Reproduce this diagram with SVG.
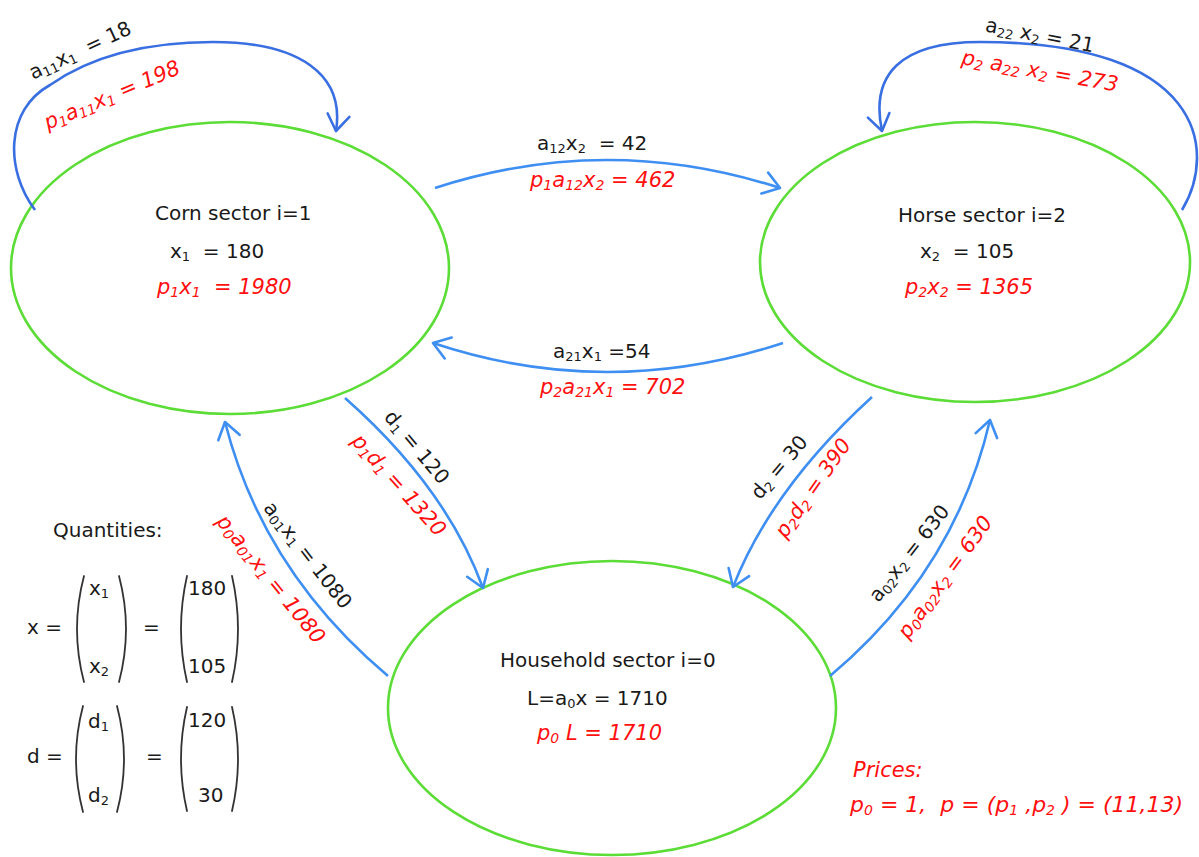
<svg xmlns="http://www.w3.org/2000/svg" width="1199" height="857" viewBox="0 0 1199 857">
<defs>
<style>
.ell{fill:none;stroke:#5cdc36;stroke-width:2.6}
.c1{fill:none;stroke:#3a6fe2;stroke-width:2.6}
.c2{fill:none;stroke:#3f8ff2;stroke-width:2.6}
.t{font-family:"DejaVu Sans","Verdana",sans-serif;font-size:20px;fill:#1a1a1a;white-space:pre}
.r{font-family:"DejaVu Sans","Verdana",sans-serif;font-size:21px;fill:#ff1010;font-style:italic;white-space:pre}
.s{font-size:13px}
.r .s{font-size:14px}
.br{fill:none;stroke:#333;stroke-width:1.8;stroke-linecap:round}
</style>
<marker id="m1" viewBox="-20 -14 24 28" refX="0" refY="0" markerWidth="24" markerHeight="28" orient="auto" markerUnits="userSpaceOnUse">
<path d="M-16,-11 L0,0 L-16,11" fill="none" stroke="#3a6fe2" stroke-width="2.6" stroke-linecap="round" stroke-linejoin="round"/>
</marker>
<marker id="m2" viewBox="-20 -14 24 28" refX="0" refY="0" markerWidth="24" markerHeight="28" orient="auto" markerUnits="userSpaceOnUse">
<path d="M-16,-11 L0,0 L-16,11" fill="none" stroke="#3f8ff2" stroke-width="2.6" stroke-linecap="round" stroke-linejoin="round"/>
</marker>
</defs>
<rect width="1199" height="857" fill="#fff"/>

<g id="node-corn">
<ellipse class="ell" cx="230" cy="268" rx="219" ry="146"/>
<text class="t" x="155" y="220">Corn sector i=1</text>
<text class="t" x="170" y="258">x<tspan class="s" dy="3">1</tspan><tspan dy="-3">  = 180</tspan></text>
<text class="r" x="157" y="294">p<tspan class="s" dy="3">1</tspan><tspan dy="-3">x</tspan><tspan class="s" dy="3">1</tspan><tspan dy="-3">  = 1980</tspan></text>
</g>

<g id="node-horse">
<ellipse class="ell" cx="975" cy="262" rx="215" ry="140"/>
<text class="t" x="898" y="222">Horse sector i=2</text>
<text class="t" x="920" y="258">x<tspan class="s" dy="3">2</tspan><tspan dy="-3">  = 105</tspan></text>
<text class="r" x="905" y="294">p<tspan class="s" dy="3">2</tspan><tspan dy="-3">x</tspan><tspan class="s" dy="3">2</tspan><tspan dy="-3"> = 1365</tspan></text>
</g>

<g id="node-household">
<ellipse class="ell" cx="612" cy="708" rx="224" ry="147"/>
<text class="t" x="500" y="667">Household sector i=0</text>
<text class="t" x="527" y="705">L=a<tspan class="s" dy="3">0</tspan><tspan dy="-3">x = 1710</tspan></text>
<text class="r" x="537" y="740">p<tspan class="s" dy="3">0</tspan><tspan dy="-3"> L = 1710</tspan></text>
</g>

<g id="connectors">
<path class="c1" d="M35,210 C5,170 5,110 50,85 C100,50 160,42 213,42 C300,42 345,75 336,131" marker-end="url(#m1)"/>
<path class="c1" d="M1182,210 C1218,150 1203,42 980,42 C900,42 870,75 882,131" marker-end="url(#m1)"/>
<path class="c2" d="M435,188 Q607,132 780,188" marker-end="url(#m2)"/>
<path class="c2" d="M783,343 Q607,401 433,343" marker-end="url(#m2)"/>
<path class="c2" d="M345,398 Q446,487 483,588" marker-end="url(#m2)"/>
<path class="c2" d="M872,397 Q772,488 733,587" marker-end="url(#m2)"/>
<path class="c2" d="M388,676 Q263,571 225,422" marker-end="url(#m2)"/>
<path class="c2" d="M830,676 Q955,571 990,420" marker-end="url(#m2)"/>
</g>

<g id="connector-labels">
<text class="t" transform="translate(80,50) rotate(-25)" y="7" text-anchor="middle">a<tspan class="s" dy="3">11</tspan><tspan dy="-3">x</tspan><tspan class="s" dy="3">1</tspan><tspan dy="-3">  = 18</tspan></text>
<text class="r" transform="translate(112,95) rotate(-23)" y="7" text-anchor="middle">p<tspan class="s" dy="3">1</tspan><tspan dy="-3">a</tspan><tspan class="s" dy="3">11</tspan><tspan dy="-3">x</tspan><tspan class="s" dy="3">1</tspan><tspan dy="-3"> = 198</tspan></text>
<text class="t" transform="translate(1040,35) rotate(11)" y="7" text-anchor="middle">a<tspan class="s" dy="3">22</tspan><tspan dy="-3"> x</tspan><tspan class="s" dy="3">2</tspan><tspan dy="-3"> = 21</tspan></text>
<text class="r" transform="translate(1040,71) rotate(10)" y="7" text-anchor="middle">p<tspan class="s" dy="3">2</tspan><tspan dy="-3"> a</tspan><tspan class="s" dy="3">22</tspan><tspan dy="-3"> x</tspan><tspan class="s" dy="3">2</tspan><tspan dy="-3"> = 273</tspan></text>
<text class="t" x="537" y="150">a<tspan class="s" dy="3">12</tspan><tspan dy="-3">x</tspan><tspan class="s" dy="3">2</tspan><tspan dy="-3">  = 42</tspan></text>
<text class="r" x="530" y="187">p<tspan class="s" dy="3">1</tspan><tspan dy="-3">a</tspan><tspan class="s" dy="3">12</tspan><tspan dy="-3">x</tspan><tspan class="s" dy="3">2</tspan><tspan dy="-3"> = 462</tspan></text>
<text class="t" x="553" y="358">a<tspan class="s" dy="3">21</tspan><tspan dy="-3">x</tspan><tspan class="s" dy="3">1</tspan><tspan dy="-3"> =54</tspan></text>
<text class="r" x="540" y="394">p<tspan class="s" dy="3">2</tspan><tspan dy="-3">a</tspan><tspan class="s" dy="3">21</tspan><tspan dy="-3">x</tspan><tspan class="s" dy="3">1</tspan><tspan dy="-3"> = 702</tspan></text>
<text class="t" transform="translate(417,447) rotate(50)" y="7" text-anchor="middle">d<tspan class="s" dy="3">1</tspan><tspan dy="-3"> = 120</tspan></text>
<text class="r" transform="translate(399,485) rotate(48)" y="7" text-anchor="middle">p<tspan class="s" dy="3">1</tspan><tspan dy="-3">d</tspan><tspan class="s" dy="3">1</tspan><tspan dy="-3"> = 1320</tspan></text>
<text class="t" transform="translate(779,467) rotate(-50)" y="7" text-anchor="middle">d<tspan class="s" dy="3">2</tspan><tspan dy="-3"> = 30</tspan></text>
<text class="r" transform="translate(813,488) rotate(-55)" y="7" text-anchor="middle">p<tspan class="s" dy="3">2</tspan><tspan dy="-3">d</tspan><tspan class="s" dy="3">2</tspan><tspan dy="-3"> = 390</tspan></text>
<text class="t" transform="translate(308,555) rotate(52)" y="7" text-anchor="middle">a<tspan class="s" dy="3">01</tspan><tspan dy="-3">x</tspan><tspan class="s" dy="3">1</tspan><tspan dy="-3"> = 1080</tspan></text>
<text class="r" transform="translate(271,579) rotate(51)" y="7" text-anchor="middle">p<tspan class="s" dy="3">0</tspan><tspan dy="-3">a</tspan><tspan class="s" dy="3">01</tspan><tspan dy="-3">x</tspan><tspan class="s" dy="3">1</tspan><tspan dy="-3"> = 1080</tspan></text>
<text class="t" transform="translate(909,553) rotate(-52)" y="7" text-anchor="middle">a<tspan class="s" dy="3">02</tspan><tspan dy="-3">x</tspan><tspan class="s" dy="3">2</tspan><tspan dy="-3"> = 630</tspan></text>
<text class="r" transform="translate(945,577) rotate(-54)" y="7" text-anchor="middle">p<tspan class="s" dy="3">0</tspan><tspan dy="-3">a</tspan><tspan class="s" dy="3">02</tspan><tspan dy="-3">x</tspan><tspan class="s" dy="3">2</tspan><tspan dy="-3"> = 630</tspan></text>
</g>

<g id="quantities">
<text class="t" x="53" y="537">Quantities:</text>
<text class="t" x="27" y="634">x =</text>
<path class="br" d="M84,576 Q70,629 84,682"/>
<path class="br" d="M119,576 Q133,629 119,682"/>
<text class="t" x="89" y="595">x<tspan class="s" dy="3">1</tspan></text>
<text class="t" x="89" y="673">x<tspan class="s" dy="3">2</tspan></text>
<text class="t" x="143" y="634">=</text>
<path class="br" d="M187,576 Q175,629 187,682"/>
<path class="br" d="M232,576 Q244,629 232,682"/>
<text class="t" x="188" y="595">180</text>
<text class="t" x="188" y="673">105</text>
<text class="t" x="27" y="763">d =</text>
<path class="br" d="M83,706 Q69,759 83,812"/>
<path class="br" d="M117,706 Q131,759 117,812"/>
<text class="t" x="88" y="728">d<tspan class="s" dy="3">1</tspan></text>
<text class="t" x="88" y="802">d<tspan class="s" dy="3">2</tspan></text>
<text class="t" x="146" y="763">=</text>
<path class="br" d="M187,707 Q175,759 187,811"/>
<path class="br" d="M232,707 Q244,759 232,811"/>
<text class="t" x="188" y="727">120</text>
<text class="t" x="198" y="802">30</text>
</g>

<g id="prices">
<text class="r" x="853" y="777">Prices:</text>
<text class="r" x="850" y="812" style="font-size:22px">p<tspan class="s" dy="3">0</tspan><tspan dy="-3"> = 1,  p = (p</tspan><tspan class="s" dy="3">1</tspan><tspan dy="-3"> ,p</tspan><tspan class="s" dy="3">2</tspan><tspan dy="-3"> ) = (11,13)</tspan></text>
</g>
</svg>
